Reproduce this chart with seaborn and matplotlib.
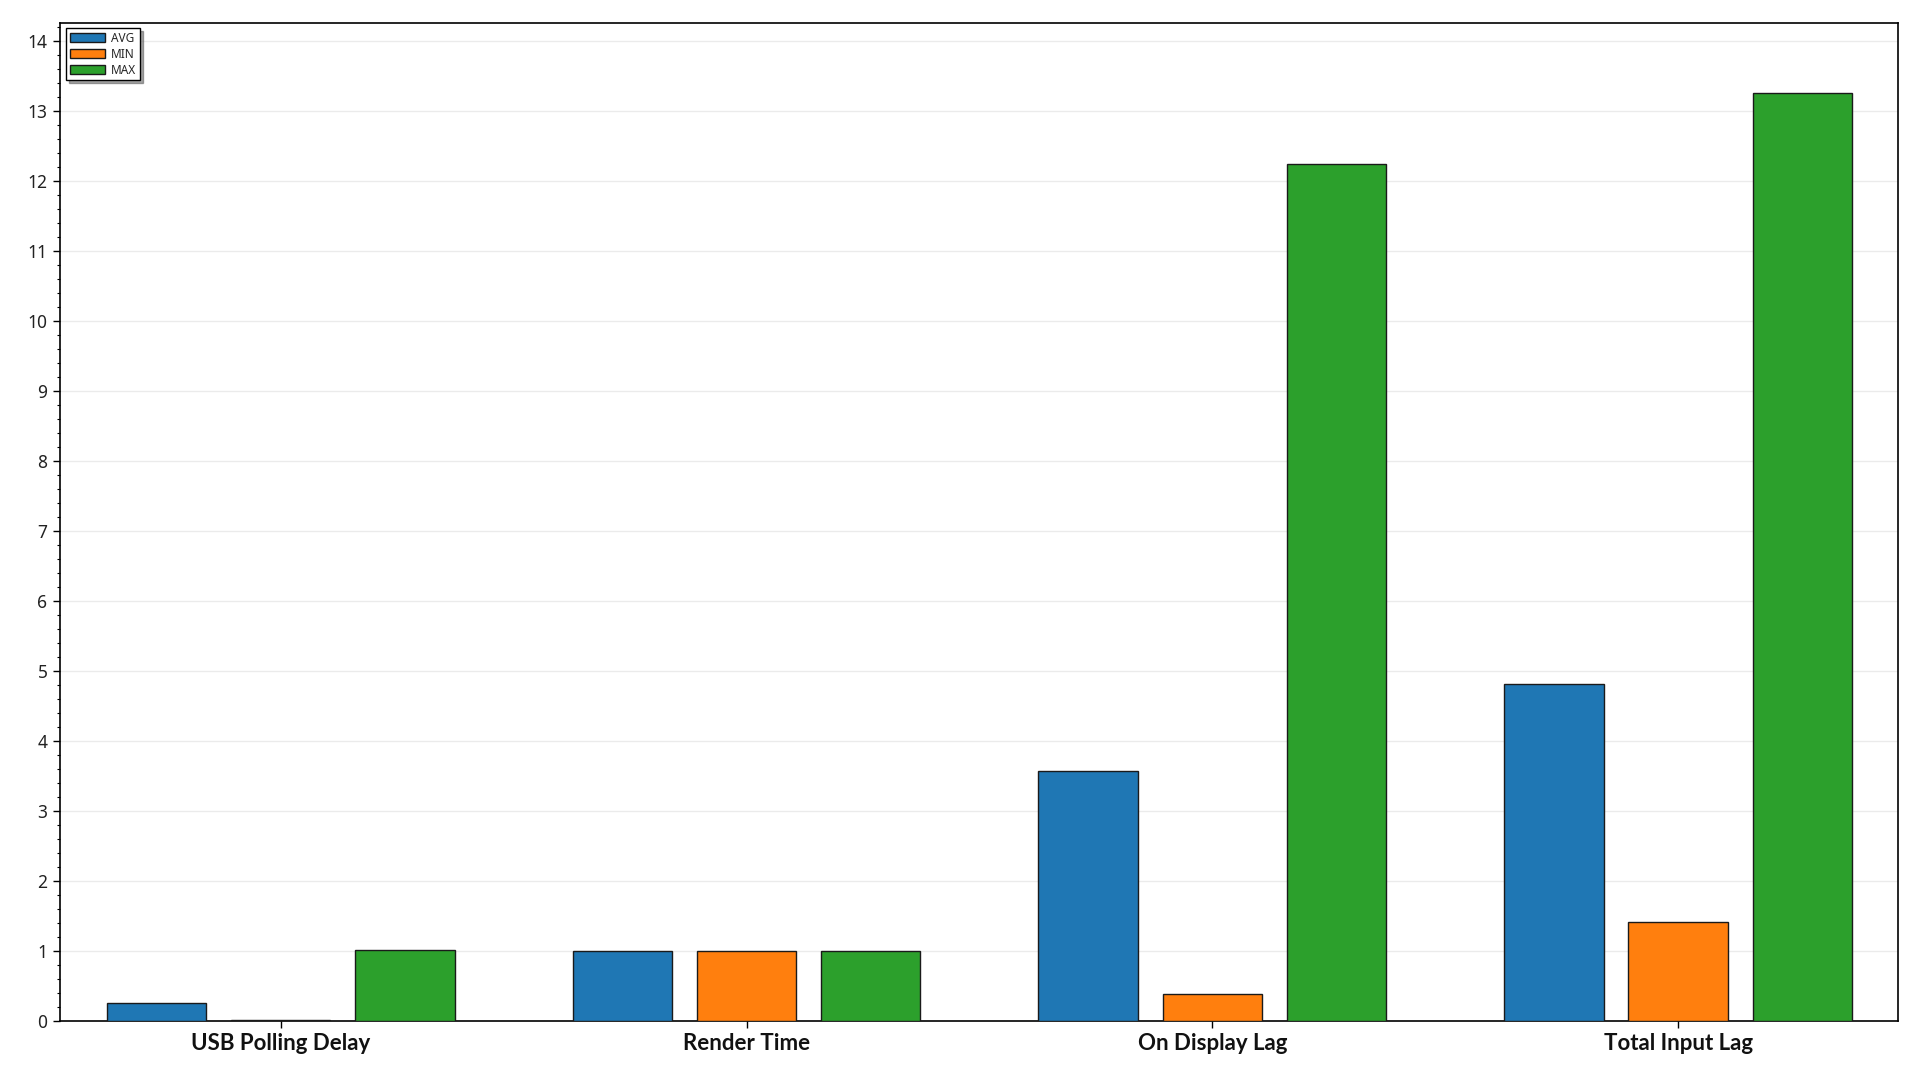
import matplotlib
matplotlib.use("Agg")
import matplotlib.pyplot as plt
import seaborn as sns
import pandas as pd
from matplotlib.ticker import MultipleLocator

categories = ["USB Polling Delay", "Render Time", "On Display Lag", "Total Input Lag"]
series_names = ["AVG", "MIN", "MAX"]
avg_values = [0.26, 1.0, 3.57, 4.82]
min_values = [0.02, 1.0, 0.39, 1.41]
max_values = [1.02, 1.0, 12.24, 13.25]
colors = ["#1f77b4", "#ff7f0e", "#2ca02c"]

rows = []
for name, vals in zip(series_names, [avg_values, min_values, max_values]):
    for c, v in zip(categories, vals):
        rows.append({"category": c, "series": name, "value": v})
df = pd.DataFrame(rows)

sns.set_theme(style="white")
plt.rcParams["font.family"] = ["Noto Sans", "DejaVu Sans"]

fig = plt.figure(figsize=(19.2, 10.8), dpi=100)
ax = fig.add_axes([60 / 1920, 1 - 1021 / 1080, (1898 - 60) / 1920, (1021 - 22.7) / 1080])

sns.barplot(data=df, x="category", y="value", hue="series", order=categories,
            hue_order=series_names, palette=colors, width=0.8, gap=0.2,
            edgecolor="#1a1a1a", linewidth=1.0, saturation=1, ax=ax, zorder=3)

ax.set_xlim(-0.474, 3.472)
ax.set_ylim(0, 14.26)
ax.yaxis.set_major_locator(MultipleLocator(1))
ax.yaxis.set_minor_locator(MultipleLocator(0.2))
ax.grid(axis="y", which="major", color="#ebebeb", linewidth=1.0, zorder=0)
ax.grid(axis="x", visible=False)
ax.set_axisbelow(True)

for s in ax.spines.values():
    s.set_visible(True)
    s.set_color("black")
    s.set_linewidth(1.2)

ax.tick_params(axis="y", which="major", direction="out", length=5, width=1,
               color="black", labelsize=12.5, pad=4, left=True, labelcolor="#222222")
ax.tick_params(axis="y", which="minor", direction="out", length=2.5, width=0.8,
               color="black", left=True)
ax.tick_params(axis="x", which="major", direction="out", length=5, width=1,
               color="black", bottom=True, pad=4)
ax.set_xticks(range(len(categories)))
ax.set_xticklabels(categories, fontsize=16, fontweight="bold", color="#111111",
                   family=["Lato", "Open Sans", "DejaVu Sans"])

ax.set_xlabel("")
ax.set_ylabel("")

leg = ax.legend(loc="upper left", bbox_to_anchor=(0.0022, 0.997), frameon=True,
                fancybox=False, shadow=True, fontsize=8.5, handlelength=3.0,
                handleheight=0.85, borderpad=0.3, labelspacing=0.25,
                handletextpad=0.5, borderaxespad=0.2)
leg.get_frame().set_edgecolor("black")
leg.get_frame().set_linewidth(1.0)
for h in leg.legend_handles:
    h.set_edgecolor("#1a1a1a")
    h.set_linewidth(1.0)

fig.savefig("out.png", dpi=100)
